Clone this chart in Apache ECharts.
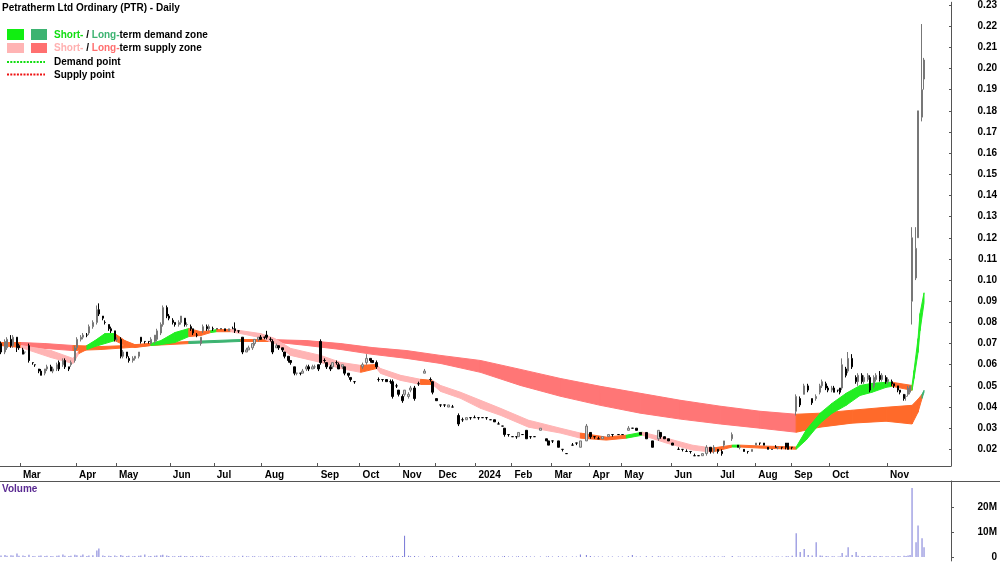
<!DOCTYPE html>
<html>
<head>
<meta charset="utf-8">
<script src="https://cdn.jsdelivr.net/npm/echarts@6/dist/echarts.min.js"></script>
<style>
  html, body { margin: 0; padding: 0; background: #fff; }
  #chart { width: 1000px; height: 562px; }
</style>
</head>
<body>
<div id="chart"></div>
<script>
// one slot = one 2px column of the trading-day axis
const slotCount = 476;
const monthSlots = [10, 38, 58, 85, 107, 131, 159, 180, 200, 218, 238, 256, 276, 295, 311, 336, 359, 378, 396, 415, 444];
const monthNames = ["Mar", "Apr", "May", "Jun", "Jul", "Aug", "Sep", "Oct", "Nov", "Dec", "2024",
  "Feb", "Mar", "Apr", "May", "Jun", "Jul", "Aug", "Sep", "Oct", "Nov"];
const priceTicks = [0.02, 0.03, 0.04, 0.05, 0.06, 0.07, 0.08, 0.09, 0.10, 0.11, 0.12, 0.13,
  0.14, 0.15, 0.16, 0.17, 0.18, 0.19, 0.20, 0.21, 0.22, 0.23];
const volumeTicks = [0, 10e6, 20e6];

// [slot, open, close, low, high] in thousandths of a dollar, volume in millions
const candles = [
  [0,70,66,65,71,.6],[2,66,71,65,72,.8],[3,68,72,67,73,.5],[5,72,69,68,74,.7],[6,69,73,68,74,.6],[8,73,68,66,73,1.4],[9,69,68,67,70,.5],[11,67,65,65,68,.6],[12,66,66,65,66,.4],[14,69,62,61,70,.9],
  [16,61,61,60,61,.4],[17,60,60,59,60,.3],[19,58,57,56,58,.5],[20,57,55,55,58,.6],[22,56,58,55,58,.4],[23,58,59,57,60,.5],[25,59,57,57,60,.4],[26,57,58,56,59,.3],[28,58,60,57,61,.5],[29,61,58,57,62,.6],
  [31,60,62,59,63,1.0],[32,62,59,58,63,.5],[34,59,58,57,59,.4],[35,60,61,59,62,.5],[37,62,68,61,69,.9],[38,68,72,67,73,.7],[40,72,73,71,74,.5],[41,73,74,72,75,1.0],[43,74,74,73,75,.4],[44,75,78,74,79,.6],
  [46,78,80,77,81,.7],[48,80,86,79,88,2.6],[49,86,84,83,89,3.4],[51,83,82,81,83,.6],[52,80,80,79,81,.4],[54,79,77,76,79,.5],[55,77,76,75,78,.4],[57,76,72,71,76,.6],[58,72,72,71,73,.3],[60,72,64,63,73,.8],
  [61,64,66,63,67,.5],[63,66,64,63,66,.4],[64,63,62,61,64,.5],[66,62,63,61,64,.3],[67,63,64,62,64,.4],[69,64,66,63,66,.5],[70,73,71,70,73,.6],[72,71,71,70,71,1.0],[74,71,71,70,71,.3],[75,70,72,70,73,.4],
  [77,71,74,70,74,.5],[78,72,76,71,77,.6],[80,75,79,74,80,.7],[81,79,87,78,88,.9],[83,87,83,82,88,.6],[84,83,82,81,84,.4],[86,81,80,79,82,.3],[87,80,79,78,80,.3],[89,79,80,78,81,.4],[90,80,83,79,83,.5],
  [92,82,79,78,82,.4],[93,79,79,78,80,.3],[95,78,77,76,79,.3],[96,77,75,74,77,.4],[98,74,74,73,75,.3],[100,70,73,69,73,.5],[101,76,78,75,79,.4],[103,78,77,76,79,.3],[104,77,78,76,79,.3],[106,77,77,76,78,.2],
  [108,77,77,77,77,.2],[110,77,77,77,77,.2],[112,77,76,76,77,.3],[114,76,77,76,77,.2],[116,77,77,77,78,.2],[117,77,76,75,80,.3],[119,76,76,75,76,.2],
  [121,73,66,65,73,.5],[123,66,67,66,68,.3],[124,67,68,67,69,.2],[126,68,70,67,70,.3],[127,70,72,69,72,.3],[129,72,73,71,73,.2],[130,73,72,72,74,.2],[132,73,73,72,73,.2],[133,74,73,72,76,.3],[135,72,72,71,73,.2],
  [136,71,66,65,72,.4],[138,68,69,68,70,.2],[139,69,68,67,69,.2],[141,68,67,66,68,.2],[142,66,64,63,66,.3],[144,64,62,61,64,.3],[145,62,61,60,62,.2],[147,59,56,55,59,.4],[148,56,56,55,56,.2],[150,56,56,55,56,.2],
  [151,56,57,56,58,.2],[153,58,59,57,60,.3],[154,59,58,57,60,.2],[156,58,59,58,60,.2],[157,59,59,58,60,.2],[159,60,58,57,60,.2],[160,71,61,60,72,.5],[162,62,62,61,63,.2],[163,61,59,58,61,.2],[165,59,58,57,60,.3],
  [166,59,61,58,61,.2],[168,61,61,60,62,.2],[169,60,58,58,61,.2],[171,59,60,58,60,.2],[172,59,56,55,59,.3],[174,56,55,54,56,.2],[175,54,53,52,54,.2],[177,52,52,51,52,.2],[181,59,60,58,61,.3],[183,61,63,60,65,.4],
  [185,63,62,61,63,.2],[186,62,61,61,62,.2],[188,61,59,58,62,.3],[189,53,53,52,54,.2],[191,53,53,52,53,.2],[193,53,52,52,53,.2],[195,52,52,51,53,.2],[196,52,45,44,53,.5],[198,50,50,49,51,.3],[199,48,46,45,48,.3],
  [201,45,43,42,46,.4],[202,46,48,45,48,8.6],[204,45,46,44,47,.5],[205,48,49,47,50,.3],[207,49,44,43,50,.4],[209,51,51,50,52,.2],[212,56,57,56,58,.2],[215,53,53,52,54,.2],[216,52,47,46,52,.4],[218,44,43,43,44,.3],
  [220,41,41,40,41,.2],[222,41,41,40,41,.2],[224,40,41,40,41,.2],[226,40,40,40,41,.2],[229,36,32,31,37,.5],[231,34,34,33,35,.3],[233,34,35,34,35,.2],[235,35,35,34,35,.2],[237,35,35,35,36,.2],[239,35,35,34,35,.2],
  [241,35,35,35,35,.2],[243,35,35,34,35,.2],[245,34,34,34,34,.2],[247,34,33,33,34,.2],[249,32,32,32,33,.2],[251,31,31,31,31,.2],[252,30,27,26,30,.4],[254,27,27,26,27,.2],[256,26,26,26,26,.2],[258,26,26,25,26,.2],
  [259,26,28,26,28,.3],[261,27,27,27,27,.2],[263,29,25,25,29,.3],[265,26,26,25,26,.2],[267,26,26,26,26,.2],[270,29,30,29,30,.2],[273,25,24,24,25,.2],[274,24,22,22,24,.3],[276,24,24,23,24,.2],[279,24,21,21,24,.3],
  [281,20,20,19,20,.2],[283,18,18,18,18,.2],[286,22,22,22,23,.2],[288,23,23,22,23,.2],[290,21,24,21,24,1.0],[293,24,31,24,32,.8],[295,28,26,25,28,.4],[297,26,26,25,26,.2],[299,25,25,25,26,.2],[301,25,26,25,26,.2],
  [304,26,27,26,27,.2],[306,27,27,26,27,.2],[309,27,27,27,27,.2],[311,27,27,27,27,.2],[314,29,30,29,31,.3],[316,30,30,30,30,.8],[318,30,29,29,30,.2],[320,28,27,27,28,.2],[323,28,25,25,28,.3],[326,24,21,21,24,.3],
  [329,25,29,24,29,.3],[330,28,26,25,28,.2],[332,26,25,25,26,.2],[334,25,24,24,25,.2],[336,23,22,22,23,.2],[339,20,20,20,21,.2],[341,20,20,19,20,.2],[343,19,19,19,20,.2],[345,19,19,18,19,.2],[347,17,17,17,18,.2],
  [349,17,17,17,17,.2],[351,17,18,17,18,.2],[353,18,21,17,22,.3],[355,21,19,18,21,.2],[357,19,21,18,22,.3],[359,20,19,18,20,.2],[361,19,18,17,20,.2],[362,22,24,21,24,.3],[366,25,27,24,28,.4],[369,22,21,21,22,.2],
  [370,21,21,20,21,.2],[372,20,19,19,20,.2],[374,19,19,18,19,.2],[376,19,20,19,20,.2],[378,22,23,22,23,.3],[380,23,23,22,23,.2],[382,23,22,22,23,.2],[384,21,20,20,21,.2],[386,20,20,20,20,.2],[388,21,21,21,22,.2],
  [389,21,21,20,21,.2],[391,21,21,20,21,.2],[393,23,21,20,23,.3],[394,23,20,20,23,.3],[396,21,21,20,21,.5],[398,38,45,36,46,9.6],[400,44,41,40,45,2.0],[402,46,50,46,51,3.2],[404,50,48,47,51,.8],[406,44,42,41,44,.6],
  [408,44,45,43,46,6.0],[410,47,50,46,51,.6],[411,50,52,49,53,.5],[413,51,49,48,52,.4],[414,49,48,47,50,.3],[416,48,49,47,50,.3],[417,49,47,47,50,.3],[419,48,48,47,48,.2],[420,49,47,46,49,.3],[421,49,60,48,63,1.6],
  [423,58,55,54,59,.6],[424,57,63,56,66,4.0],[426,63,59,58,65,.8],[428,54,52,51,55,2.0],[429,52,55,50,56,.5],[431,55,52,51,56,.4],[432,52,54,51,55,.4],[434,53,55,52,56,.4],[435,54,48,47,55,.5],[437,50,54,49,55,.4],
  [438,53,55,52,56,.3],[440,55,53,52,57,.4],[441,53,55,52,56,.3],[443,54,52,51,55,.3],[444,52,53,51,54,.3],[446,52,51,50,53,.3],[447,51,50,49,51,.3],[449,50,48,47,50,.4],[450,48,47,46,48,.3],[452,46,44,43,46,.5],
  [453,45,45,43,46,.4],[454,46,49,45,50,.6],[455,47,50,46,50,.8],[456,90,120,79,125,28],[458,101,115,100,125,6],[459,120,180,120,180,12.8],[461,177,190,175,221,7.6],[462,195,204,190,205,4]
];

// zone bands: [slot, lower, upper, colour of the stretch to the next point], thousandths
const shortBand = [
  [0,69.1,70.5,"o"],[10,68.1,69.1,"p"],[25,63.4,66.7,"p"],[36,60.6,63.0,"p"],[39,65.3,66.7,"o"],[43,67.2,69.1,"g"],[47,68.6,71.4,"g"],[52,70.0,74.7,"g"],[57,71.4,74.7,"o"],[62,69.1,71.4,"o"],
  [67,68.1,69.5,"o"],[75,69.1,70.0,"g"],[80,69.5,71.4,"g"],[87,70.5,75.2,"g"],[94,73.3,77.1,"o"],[100,73.8,75.6,"o"],[105,75.2,76.1,"g"],[108,75.6,76.6,"o"],[115,75.6,76.6,"p"],[120,74.7,76.1,"p"],
  [130,72.8,74.7,"p"],[137,70.0,72.4,"p"],[145,64.4,67.7,"p"],[160,61.1,64.4,"p"],[170,58.2,61.1,"p"],[180,56.4,59.7,"o"],[188,58.2,60.1,"p"],[190,55.9,58.2,"p"],[200,52.6,55.0,"p"],[210,50.7,53.1,"o"],
  [216,50.7,52.6,"p"],[220,47.4,50.2,"p"],[230,44.1,47.0,"p"],[240,39.4,43.2,"p"],[250,36.1,39.4,"p"],[264,30.5,33.8,"p"],[280,27.7,30.0,"p"],[290,25.3,27.7,"o"],[303,24.4,25.8,"o"],[313,25.3,26.7,"g"],
  [321,26.7,28.1,"p"],[333,23.0,25.3,"p"],[346,19.7,22.0,"p"],[356,18.7,20.6,"o"],[366,21.1,22.0,"g"],[370,21.1,22.0,"o"],[380,20.6,21.6,"o"],[398,20.1,21.1,"g"],[403,24.4,29.1,"g"],[410,32.4,37.1,"g"],
  [416,37.1,41.8,"g"],[423,40.8,46.5,"g"],[430,45.5,50.2,"g"],[436,47.0,51.2,"g"],[443,49.3,51.7,"g"],[446,49.8,51.7,"o"],[456,47.9,50.2,"g"],[457,53.5,57.3,"g"],[459,65.8,72.4,"g"],[460,76.1,84.2,"g"],
  [462,89.3,94.0,"g"]
];
const longBand = [
  [0,69.1,70.5,"o"],[10,68.6,70.5,"r"],[22,67.7,70.0,"r"],[36,66.7,69.1,"o"],[50,67.2,68.6,"o"],[64,68.1,69.1,"o"],[75,69.1,70.0,"o"],[94,70.0,71.0,"s"],[120,71.0,71.9,"o"],[134,71.0,71.9,"r"],
  [153,69.1,71.4,"r"],[170,67.2,70.0,"r"],[186,64.9,68.1,"r"],[203,63.0,66.7,"r"],[220,60.6,64.4,"r"],[240,56.4,62.0,"r"],[260,50.2,57.8,"r"],[280,45.1,53.5,"r"],[300,40.8,49.8,"r"],[320,37.1,46.5,"r"],
  [340,34.3,43.2,"r"],[360,32.0,40.4,"r"],[380,30.0,38.0,"r"],[398,28.1,36.6,"o"],[410,30.5,37.1,"o"],[426,32.4,38.5,"o"],[443,33.3,39.9,"o"],[456,32.0,40.8,"o"],[459,37.6,43.7,"o"],[461,44.1,46.0,"s"],
  [462,47.0,47.9,"s"]
];

const zoneColors = { o: "#ff6a2a", p: "#ffb4b4", r: "#ff7676", g: "#22ee22", s: "#3cb371" };
const font = "Liberation Sans, Arial, sans-serif";

const categories = new Array(slotCount).fill("");
monthSlots.forEach((s, i) => { categories[s] = monthNames[i]; });

const candleData = new Array(slotCount).fill("-");
const volumeData = new Array(slotCount).fill("-");
candles.forEach(c => {
  candleData[c[0]] = [c[1] / 1000, c[2] / 1000, c[3] / 1000, c[4] / 1000];
  volumeData[c[0]] = c[5] * 1e6;
});

function zoneSeries(band, z) {
  return {
    type: "custom",
    xAxisIndex: 0,
    yAxisIndex: 0,
    silent: true,
    z: z,
    data: band.map(b => [b[0], b[1] / 1000, b[2] / 1000]),
    renderItem(params, api) {
      const i = params.dataIndex;
      if (i >= band.length - 1) return null;
      const a = band[i], b = band[i + 1];
      const col = zoneColors[a[3]];
      return {
        type: "polygon",
        shape: {
          points: [
            api.coord([a[0], a[2] / 1000]),
            api.coord([b[0], b[2] / 1000]),
            api.coord([b[0], b[1] / 1000]),
            api.coord([a[0], a[1] / 1000]),
          ],
        },
        style: { fill: col, stroke: col, lineWidth: 1 },
      };
    },
  };
}

const showMonth = (idx, val) => val !== "";

const chart = echarts.init(document.getElementById("chart"));
chart.setOption({
  animation: false,
  grid: [
    { left: 0, top: 0, width: 952, height: 466 },
    { left: 0, top: 481, width: 952, height: 81 },
  ],
  xAxis: [
    {
      type: "category",
      gridIndex: 0,
      data: categories,
      boundaryGap: true,
      axisLine: { lineStyle: { color: "#555", width: 1 } },
      axisTick: { show: true, inside: true, length: 3, interval: showMonth, lineStyle: { color: "#555" } },
      axisLabel: {
        interval: showMonth,
        align: "left",
        margin: 4,
        padding: [0, 0, 0, 2],
        color: "#000",
        fontWeight: "bold",
        fontSize: 10,
        fontFamily: font,
      },
      splitLine: { show: false },
    },
    {
      type: "category",
      gridIndex: 1,
      data: categories,
      boundaryGap: true,
      show: false,
    },
  ],
  yAxis: [
    {
      type: "value",
      gridIndex: 0,
      position: "right",
      min: 0.01214,
      max: 0.2313,
      axisLine: { show: true, lineStyle: { color: "#555" } },
      axisTick: { show: true, inside: true, length: 2, customValues: priceTicks, lineStyle: { color: "#555" } },
      axisLabel: {
        customValues: priceTicks,
        formatter: v => v.toFixed(2),
        align: "right",
        margin: 46,
        color: "#000",
        fontWeight: "bold",
        fontSize: 10,
        fontFamily: font,
      },
      splitLine: { show: false },
    },
    {
      type: "value",
      gridIndex: 1,
      position: "right",
      min: -1.6e6,
      max: 30.8e6,
      axisLine: { show: true, lineStyle: { color: "#555" } },
      axisTick: { show: true, length: 3, customValues: volumeTicks, lineStyle: { color: "#555" } },
      axisLabel: {
        customValues: volumeTicks,
        formatter: v => (v === 0 ? "0" : v / 1e6 + "M"),
        align: "right",
        margin: 46,
        color: "#000",
        fontWeight: "bold",
        fontSize: 10,
        fontFamily: font,
      },
      splitLine: { show: false },
    },
  ],
  series: [
    zoneSeries(longBand, 1),
    zoneSeries(shortBand, 2),
    {
      type: "candlestick",
      xAxisIndex: 0,
      yAxisIndex: 0,
      z: 5,
      barWidth: 2,
      data: candleData,
      itemStyle: {
        color: "#d4d4d4",
        color0: "#000",
        borderColor: "#777",
        borderColor0: "#000",
        borderWidth: 1,
      },
    },
    {
      type: "bar",
      xAxisIndex: 1,
      yAxisIndex: 1,
      barWidth: 1,
      data: volumeData,
      itemStyle: { color: "#7676d6" },
    },
  ],
  graphic: [
    { type: "line", shape: { x1: 0, y1: 481.5, x2: 1000, y2: 481.5 }, style: { stroke: "#555", lineWidth: 1 } },
    { type: "text", x: 2, y: 8, style: { text: "Petratherm Ltd Ordinary (PTR) - Daily", font: "bold 10px " + font, fill: "#000", verticalAlign: "middle" } },
    { type: "rect", shape: { x: 7, y: 29, width: 17, height: 11 }, style: { fill: "#11ee11" } },
    { type: "rect", shape: { x: 31, y: 29, width: 16, height: 11 }, style: { fill: "#3cb371" } },
    { type: "rect", shape: { x: 7, y: 43, width: 17, height: 10 }, style: { fill: "#ffb4b4" } },
    { type: "rect", shape: { x: 31, y: 43, width: 16, height: 10 }, style: { fill: "#ff7070" } },
    { type: "line", shape: { x1: 7, y1: 62, x2: 45, y2: 62 }, style: { stroke: "#11dd11", lineWidth: 2, lineDash: [2, 1.3] } },
    { type: "line", shape: { x1: 7, y1: 74.5, x2: 45, y2: 74.5 }, style: { stroke: "#ee1111", lineWidth: 2, lineDash: [2, 1.3] } },
    {
      type: "text", x: 54, y: 35,
      style: {
        text: "{a|Short-} / {b|Long-}term demand zone",
        font: "bold 10px " + font, fill: "#000", verticalAlign: "middle",
        rich: { a: { fill: "#11dd11", font: "bold 10px " + font }, b: { fill: "#3cb371", font: "bold 10px " + font } },
      },
    },
    {
      type: "text", x: 54, y: 48.5,
      style: {
        text: "{a|Short-} / {b|Long-}term supply zone",
        font: "bold 10px " + font, fill: "#000", verticalAlign: "middle",
        rich: { a: { fill: "#ffb0b0", font: "bold 10px " + font }, b: { fill: "#ff6e6e", font: "bold 10px " + font } },
      },
    },
    { type: "text", x: 54, y: 62, style: { text: "Demand point", font: "bold 10px " + font, fill: "#000", verticalAlign: "middle" } },
    { type: "text", x: 54, y: 75, style: { text: "Supply point", font: "bold 10px " + font, fill: "#000", verticalAlign: "middle" } },
    { type: "text", x: 2, y: 489.5, style: { text: "Volume", font: "bold 10px " + font, fill: "#5a2a92", verticalAlign: "middle" } },
  ],
});
</script>
</body>
</html>
